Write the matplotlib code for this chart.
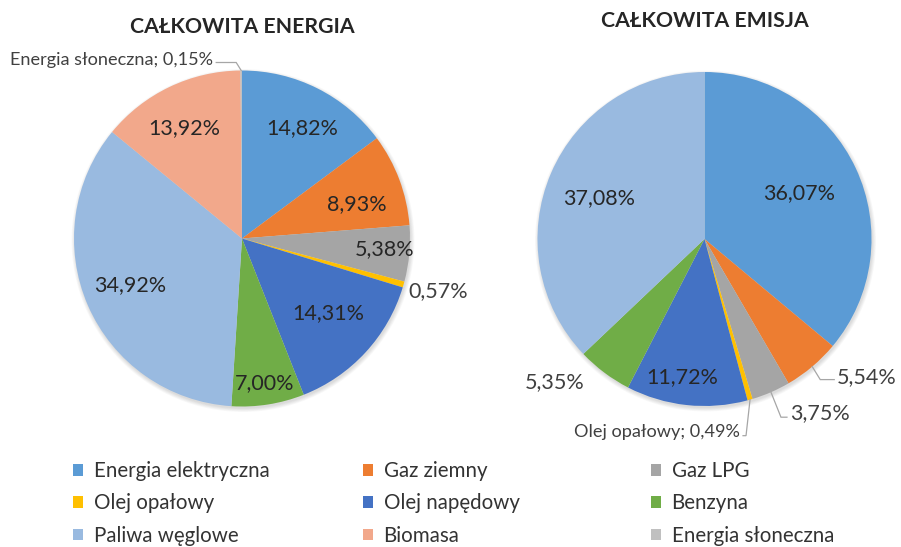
import numpy as np
import matplotlib.pyplot as plt
from matplotlib.patches import Patch, Circle

plt.rcParams['font.family'] = ['Lato', 'DejaVu Sans']

# --- dane ---
categories = ['Energia elektryczna', 'Gaz ziemny', 'Gaz LPG',
              'Olej opałowy', 'Olej napędowy', 'Benzyna',
              'Paliwa węglowe', 'Biomasa', 'Energia słoneczna']
energia = [14.82, 8.93, 5.38, 0.57, 14.31, 7.00, 34.92, 13.92, 0.15]
emisja = [36.07, 5.54, 3.75, 0.49, 11.72, 5.35, 37.08, 0.0, 0.0]
colors = ['#5B9BD5', '#ED7D31', '#A5A5A5', '#FFC000', '#4472C4',
          '#70AD47', '#99BAE0', '#F2A88B', '#C0C0C0']
titles = ['CAŁKOWITA ENERGIA', 'CAŁKOWITA EMISJA']

W, H = 901, 547
fig = plt.figure(figsize=(W / 100, H / 100), dpi=100)
ax = fig.add_axes([0, 0, 1, 1])

LBL = '#262626'


def fmt(v):
    return f'{v:.2f}%'.replace('.', ',')


def polar(c, r, ang):
    t = np.deg2rad(ang)
    return c[0] + r * np.sin(t), c[1] + r * np.cos(t)


def draw_pie(values, center, R, title, title_y, inside, outside):
    # lekki cien jak w Excelu
    for i in range(6):
        ax.add_patch(Circle((center[0] + 1, center[1] - 2), R + 0.7 * i,
                            color='black', alpha=0.025, lw=0, zorder=0))
    ax.pie(values, colors=colors, startangle=90, counterclock=False,
           center=center, radius=R, wedgeprops=dict(linewidth=0, zorder=1))
    vals = np.array(values)
    start = (np.cumsum(vals) - vals) / vals.sum() * 360
    mid = start + vals / vals.sum() * 180

    for i, (dth, f) in inside.items():
        x, y = polar(center, f * R, mid[i] + dth)
        ax.text(x, y, fmt(values[i]), ha='center', va='center',
                fontsize=15.5, color=LBL)

    for i, o in outside.items():
        x0, y0 = polar(center, o.get('r', 1.0) * R, mid[i] + o.get('dth', 0))
        txt = fmt(values[i])
        if o.get('name'):
            txt = f'{categories[i]}; {txt}'
        if 'elbow' in o:
            x1, y1 = x0 + o['elbow'][0], y0 + o['elbow'][1]
            x2 = x1 + o['run']
            ax.plot([x0, x1, x2], [y0, y1, y1], color='#A6A6A6', lw=0.9,
                    solid_joinstyle='miter')
            tx = x2 + (3 if o['run'] > 0 else -3)
            ty = y1 + o.get('ty', 3)
        else:
            tx, ty = x0, y0
        ax.text(tx, ty, txt, ha=o['ha'], va='center',
                fontsize=13.1 if o.get('name') else 15.5, color='#404040')

    ax.text(center[0], H - title_y, title, ha='center', va='center',
            fontsize=15.3, fontweight='bold', color='#262626')


draw_pie(energia, (242, H - 238.5), 168, titles[0], 27,
         inside={0: (2, 0.75), 1: (4, 0.71), 2: (-1, 0.85), 4: (-2, 0.68),
                 5: (0, 0.87), 6: (1, 0.72), 7: (-2, 0.74)},
         outside={3: dict(r=1.04, dth=1.6, ha='left'),
                  8: dict(elbow=(-5, 8), run=-20, ha='right', name=True,
                          ty=3)})

draw_pie(emisja, (704.5, H - 239), 167, titles[1], 21,
         inside={0: (-1, 0.63), 4: (3, 0.84), 6: (-2, 0.68)},
         outside={1: dict(elbow=(8, -13), run=14, ha='left', ty=3),
                  2: dict(elbow=(10, -25), run=6, ha='left', ty=4),
                  3: dict(elbow=(-4, -36), run=-3, ha='right', name=True,
                          ty=4),
                  5: dict(r=1.24, dth=9.5, ha='center')})

# legenda: trzy kolumny
col_x = [73, 363, 651]
for j in range(3):
    idx = [j, j + 3, j + 6]
    handles = [Patch(facecolor=colors[k], edgecolor='none') for k in idx]
    leg = fig.legend(handles, [categories[k] for k in idx],
                     loc='upper left', bbox_to_anchor=(col_x[j] / W, 1 - 461 / H),
                     frameon=False, fontsize=14.8, handlelength=0.5,
                     handleheight=0.5, handletextpad=0.5, labelspacing=0.6,
                     borderpad=0, borderaxespad=0)
    for t in leg.get_texts():
        t.set_color('#333333')

ax.set_xlim(0, W)
ax.set_ylim(0, H)
ax.set_aspect('auto')
ax.axis('off')

fig.savefig('out.png', dpi=100)
